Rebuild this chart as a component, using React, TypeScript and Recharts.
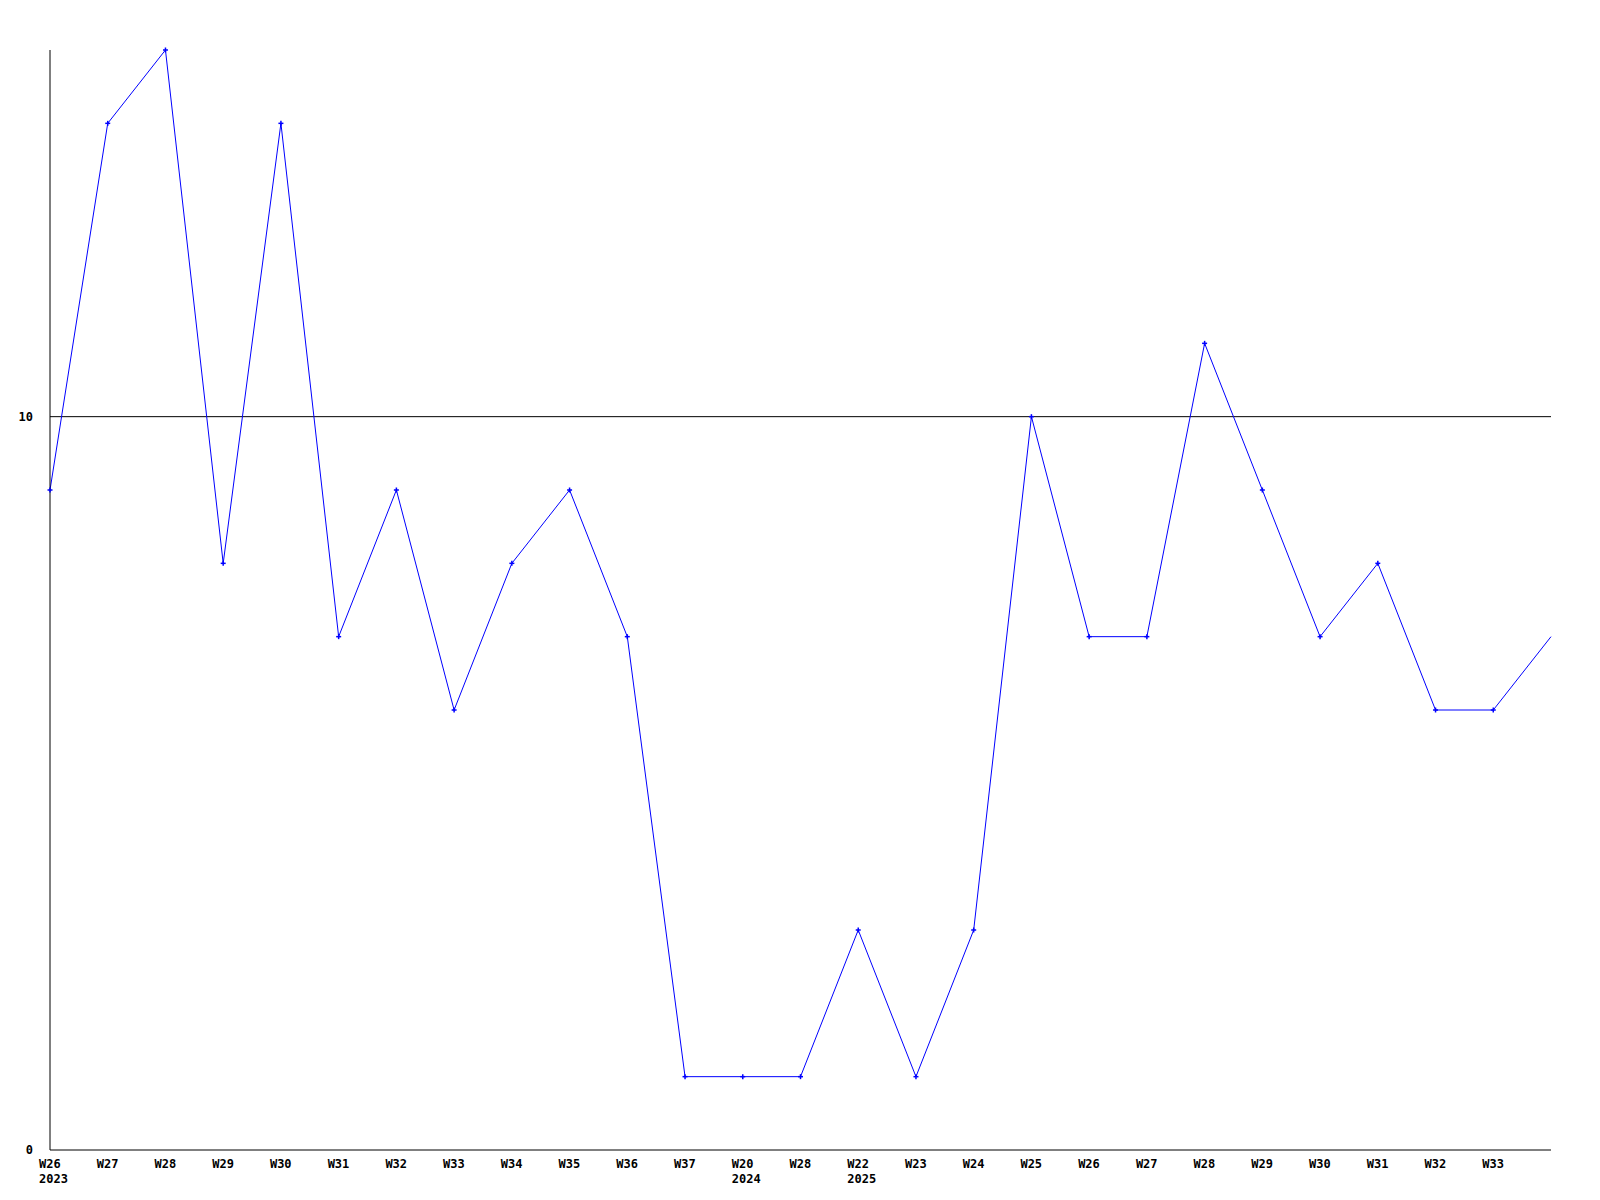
import React from 'react';
import { LineChart, Line, XAxis, YAxis, ReferenceLine } from 'recharts';

const weekLabels = [
  'W26', 'W27', 'W28', 'W29', 'W30', 'W31', 'W32', 'W33', 'W34', 'W35', 'W36', 'W37',
  'W20', 'W28', 'W22', 'W23', 'W24', 'W25', 'W26', 'W27', 'W28', 'W29', 'W30', 'W31', 'W32', 'W33', '',
];
const yearLabels = [
  '2023', '', '', '', '', '', '', '', '', '', '', '',
  '2024', '', '2025', '', '', '', '', '', '', '', '', '', '', '', '',
];
const counts = [9, 14, 15, 8, 14, 7, 9, 6, 8, 9, 7, 1, 1, 1, 3, 1, 3, 10, 7, 7, 11, 9, 7, 8, 6, 6, 7];
const yTicks = [0, 10];

const data = counts.map((v, i) => ({ key: i, week: weekLabels[i], year: yearLabels[i], value: v }));

const font = { fontFamily: '"DejaVu Sans Mono", monospace', fontWeight: 'bold' as const, fontSize: 12 };

const WeekTick = (props: any) => {
  const { x, y, payload } = props;
  const d = data[payload.index];
  if (!d) return null;
  return (
    <g>
      <text x={x - 11} y={y + 16} fill="#000" {...font}>{d.week}</text>
      {d.year && <text x={x - 11} y={y + 31} fill="#000" {...font}>{d.year}</text>}
    </g>
  );
};

const CrossDot = (props: any) => {
  const { cx, cy, index } = props;
  if (index === data.length - 1) return <g key={index} />;
  return (
    <g key={index}>
      <line x1={cx - 2.5} y1={cy} x2={cx + 2.5} y2={cy} stroke="#0000ff" strokeWidth={1.5} />
      <line x1={cx} y1={cy - 2.5} x2={cx} y2={cy + 2.5} stroke="#0000ff" strokeWidth={1.5} />
    </g>
  );
};

export default function App() {
  return (
    <div style={{ position: 'absolute', left: 0, top: 0, background: '#fff' }}>
      <LineChart width={1600} height={1200} data={data} margin={{ top: 50, right: 49, left: 0, bottom: 0 }}>
        <XAxis
          dataKey="key"
          type="category"
          scale="point"
          padding={{ left: 0, right: 0 }}
          axisLine={{ stroke: '#000' }}
          tickLine={false}
          tickSize={0}
          tick={<WeekTick />}
          interval={0}
          height={50}
        />
        <YAxis
          domain={[0, 15]}
          ticks={yTicks}
          width={50}
          axisLine={{ stroke: '#000' }}
          tickLine={false}
          tickSize={0}
          tickMargin={17}
          tick={{ fill: '#000', ...font }}
        />
        <ReferenceLine y={10} stroke="#000" />
        <Line
          dataKey="value"
          stroke="#0000ff"
          strokeWidth={1}
          dot={<CrossDot />}
          activeDot={false}
          isAnimationActive={false}
        />
      </LineChart>
    </div>
  );
}
